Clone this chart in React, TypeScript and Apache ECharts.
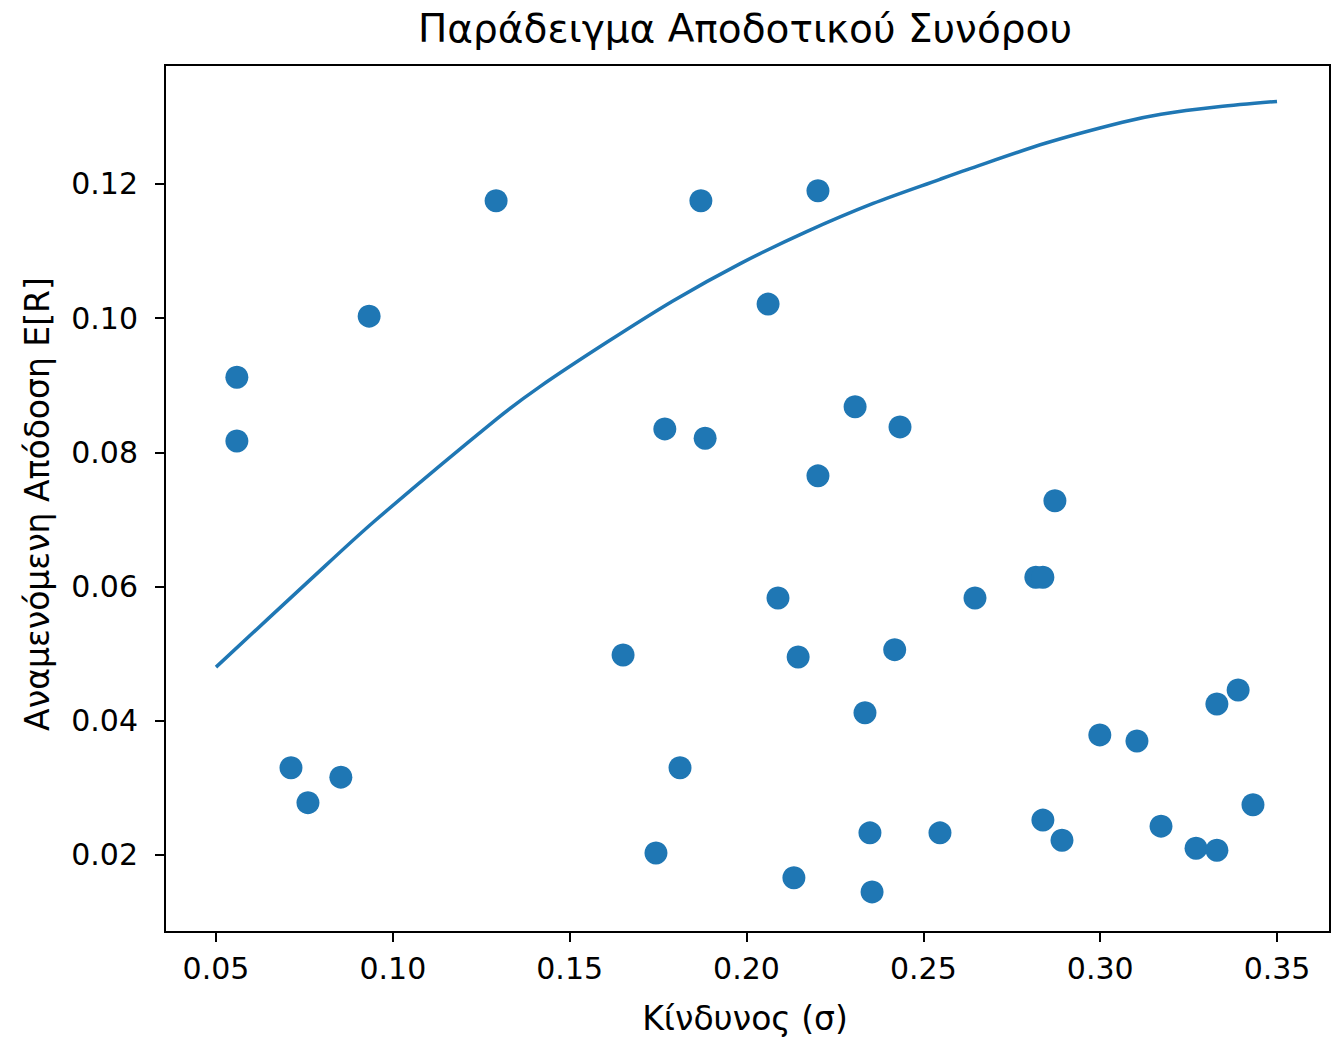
import React, { useEffect, useRef } from "react";
import * as echarts from "echarts";

const titleText = "Παράδειγμα Αποδοτικού Συνόρου";
const xLabelText = "Κίνδυνος (σ)";
const yLabelText = "Αναμενόμενη Απόδοση E[R]";

const xTicks = [0.05, 0.1, 0.15, 0.2, 0.25, 0.3, 0.35];
const yTicks = [0.02, 0.04, 0.06, 0.08, 0.1, 0.12];

const riskPts = [0.0559, 0.0559, 0.0933, 0.1292, 0.0712, 0.076, 0.0853, 0.1651, 0.1744, 0.1769, 0.1812, 0.1871, 0.1883, 0.2061, 0.2089, 0.2134, 0.2146, 0.2202, 0.2202, 0.2307, 0.2335, 0.2349, 0.2355, 0.2419, 0.2434, 0.2547, 0.2646, 0.2818, 0.2838, 0.2838, 0.2872, 0.2892, 0.2999, 0.3104, 0.3172, 0.3271, 0.333, 0.333, 0.339, 0.3432];
const returnPts = [0.0912, 0.0817, 0.1003, 0.1175, 0.033, 0.0278, 0.0316, 0.0498, 0.0203, 0.0835, 0.033, 0.1175, 0.0821, 0.1021, 0.0583, 0.0166, 0.0495, 0.119, 0.0765, 0.0868, 0.0412, 0.0233, 0.0145, 0.0506, 0.0838, 0.0233, 0.0583, 0.0614, 0.0614, 0.0252, 0.0728, 0.0222, 0.0379, 0.037, 0.0243, 0.021, 0.0425, 0.0207, 0.0446, 0.0275];

const frontierRisk = [0.05, 0.0766, 0.0947, 0.1294, 0.1416, 0.1605, 0.1793, 0.1981, 0.217, 0.2358, 0.2547, 0.2622, 0.2847, 0.3063, 0.3172, 0.3334, 0.35];
const frontierReturn = [0.048, 0.061, 0.0697, 0.085, 0.0898, 0.0964, 0.1026, 0.1081, 0.1129, 0.1171, 0.1207, 0.1221, 0.1261, 0.1292, 0.1304, 0.1315, 0.1323];

const FONT = "DejaVu Sans";
const BLUE = "#1f77b4";

export default function App() {
  const ref = useRef<HTMLDivElement>(null);
  useEffect(() => {
    document.body.style.margin = "0";
    if (!ref.current) return;
    const chart = echarts.init(ref.current, undefined, { renderer: "svg" });
    const gl = 165, gt = 65, gw = 1165, gh = 867;
    chart.setOption({
      animation: false,
      backgroundColor: "#fff",
      grid: { left: gl, top: gt, width: gw, height: gh, show: true, borderColor: "#000", borderWidth: 2, backgroundColor: "transparent" },
      xAxis: {
        type: "value",
        min: 0.03558,
        max: 0.36498,
        splitLine: { show: false },
        axisLine: { show: false },
        axisTick: { show: true, inside: false, length: 10, lineStyle: { color: "#000", width: 2 }, customValues: xTicks },
        axisLabel: { customValues: xTicks, margin: 21, fontFamily: FONT, fontSize: 30, color: "#000", formatter: (v: number) => v.toFixed(2) },
      },
      yAxis: {
        type: "value",
        min: 0.008525,
        max: 0.13773,
        splitLine: { show: false },
        axisLine: { show: false },
        axisTick: { show: true, inside: false, length: 10, lineStyle: { color: "#000", width: 2 }, customValues: yTicks },
        axisLabel: { customValues: yTicks, margin: 27, fontFamily: FONT, fontSize: 30, color: "#000", formatter: (v: number) => v.toFixed(2) },
      },
      graphic: [
        { type: "text", x: 745, y: 28, style: { text: titleText, fontFamily: FONT, fontSize: 39, fill: "#000", textAlign: "center", textVerticalAlign: "middle" } },
        { type: "text", x: 745, y: 1018, style: { text: xLabelText, fontFamily: FONT, fontSize: 33, fill: "#000", textAlign: "center", textVerticalAlign: "middle" } },
        { type: "text", x: 37, y: 504, rotation: Math.PI / 2, style: { text: yLabelText, fontFamily: FONT, fontSize: 33, fill: "#000", textAlign: "center", textVerticalAlign: "middle" } },
      ],
      series: [
        {
          type: "scatter",
          data: riskPts.map((r, i) => [r, returnPts[i]]),
          symbolSize: 23,
          itemStyle: { color: BLUE, opacity: 1 },
        },
        {
          type: "line",
          data: frontierRisk.map((r, i) => [r, frontierReturn[i]]),
          showSymbol: false,
          smooth: 0.3,
          lineStyle: { color: BLUE, width: 3.5 },
        },
      ],
    });
    return () => chart.dispose();
  }, []);
  return <div ref={ref} style={{ width: 1342, height: 1037 }} />;
}
